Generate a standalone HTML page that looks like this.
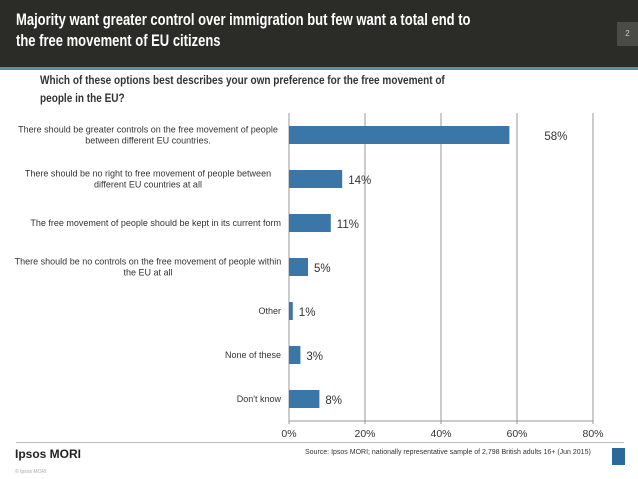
<!DOCTYPE html>
<html><head><meta charset="utf-8"><style>
body{margin:0;width:638px;height:479px;overflow:hidden;background:#fff;font-family:"Liberation Sans",sans-serif;position:relative}
#hdr{position:absolute;left:0;top:0;width:638px;height:67px;background:#2b2b28}
#bl{position:absolute;left:0;top:67px;width:638px;height:3px;background:#5f8fa8}
#title{position:absolute;left:16px;top:9px;color:#fff;font-weight:bold;font-size:17px;line-height:21px;width:700px;white-space:nowrap;transform:scaleX(0.765);transform-origin:left top}
#pg{position:absolute;left:617px;top:22px;width:21px;height:24px;background:#4a4a46;color:#ccc;font-size:8px;text-align:center;line-height:24px}
#q{position:absolute;left:40px;top:71px;font-size:12px;font-weight:bold;color:#333;line-height:18px;width:700px;white-space:nowrap;transform:scaleX(0.835);transform-origin:left top}
#foot{position:absolute;left:16px;width:608px;height:1px;background:#bbb}
</style></head><body>
<div id="hdr"></div>
<div id="bl"></div>
<div id="title">Majority want greater control over immigration but few want a total end to<br>the free movement of EU citizens</div>
<div id="pg">2</div>
<div id="q">Which of these options best describes your own preference for the free movement of<br>people in the EU?</div>
<svg id="chart" width="638" height="479" style="position:absolute;left:0;top:0"></svg>
<div style="position:absolute;left:15px;top:447px;font-size:12px;font-weight:bold;color:#222">Ipsos MORI</div>
<div style="position:absolute;left:305px;top:449px;font-size:7px;color:#333">Source: Ipsos MORI; nationally representative sample of 2,798 British adults 16+ (Jun 2015)</div>
<div style="position:absolute;left:612px;top:448px;width:13px;height:17px;background:#2a6a9a"></div>
<div id="foot" style="top:442px"></div>
<div style="position:absolute;left:15px;top:469px;font-size:5px;color:#aaa">© Ipsos MORI</div>
<script>
const categories=[["There should be greater controls on the free movement of people","between different EU countries."],["There should be no right to free movement of people between","different EU countries at all"],["The free movement of people should be kept in its current form"],["There should be no controls on the free movement of people within","the EU at all"],["Other"],["None of these"],["Don't know"]];
const values=[58,14,11,5,1,3,8];
const ticks=[0,20,40,60,80];
const NS="http://www.w3.org/2000/svg",svg=document.getElementById('chart');
const x0=289,x1=593,y0=113,y1=421,xmax=80;
const xs=v=>x0+(x1-x0)*v/xmax;
const band=(y1-y0)/categories.length;
const yc=i=>y0+band*(i+0.5);
function mk(t,a){const e=document.createElementNS(NS,t);for(const k in a)e.setAttribute(k,a[k]);svg.appendChild(e);return e;}
ticks.forEach(t=>{const l=mk('line',{x1:xs(t),x2:xs(t),y1:y0,y2:y1+3,stroke:'#999','stroke-width':1});


const tx=mk('text',{x:xs(t),y:y1+16,'text-anchor':'middle','font-size':10.5,fill:'#333'});tx.textContent=t+'%';

});
const ax=mk('line',{x1:x0,x2:x1,y1:y1,y2:y1,stroke:'#999'});


values.forEach((v,i)=>{const h=18,c=yc(i);
const r=mk('rect',{x:x0,y:c-h/2,width:xs(v)-x0,height:h,fill:'#3a77a8'});


const t=mk('text',{x:v>50?xs(v)+35:xs(v)+6,y:c+5,'font-size':11.5,fill:'#333'});t.textContent=v+'%';


const lines=categories[i];lines.forEach((s,j)=>{const lt=mk('text',{x:lines.length>1?148:281,y:c+3+(j-(lines.length-1)/2)*11,'text-anchor':lines.length>1?'middle':'end','font-size':9,fill:'#333'});lt.textContent=s;

});});
</script>
</body></html>
